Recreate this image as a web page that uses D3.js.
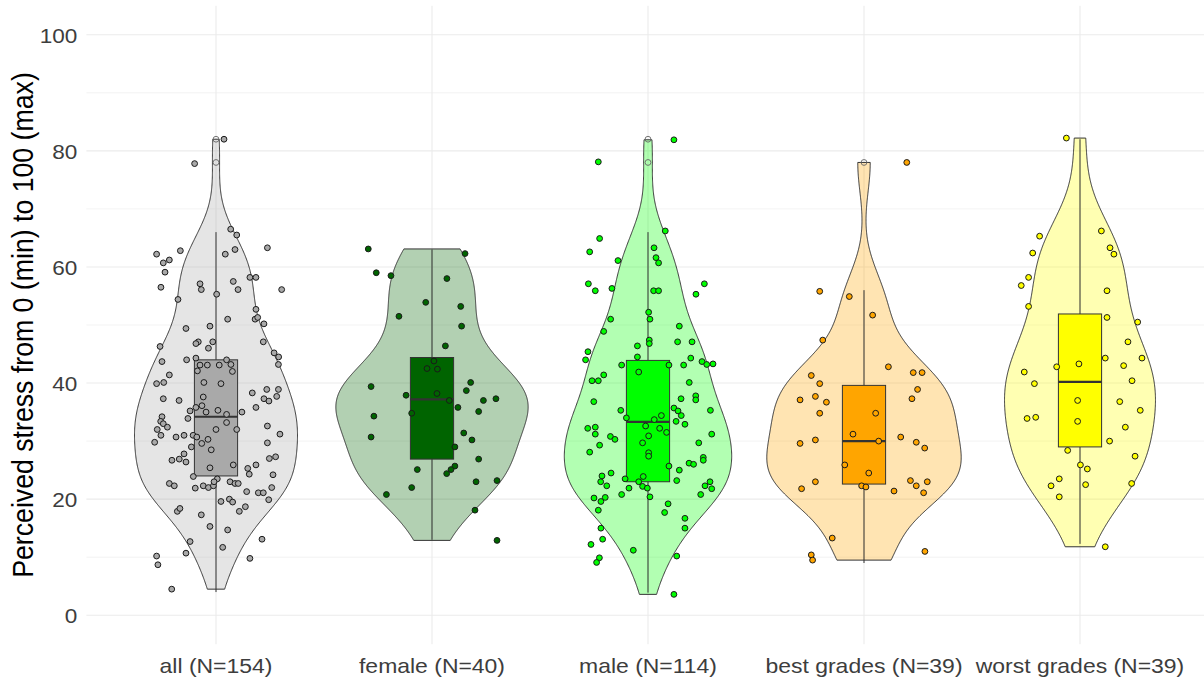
<!DOCTYPE html>
<html><head><meta charset="utf-8">
<script src="https://cdn.jsdelivr.net/npm/d3@7"></script>
<style>body{margin:0;background:#fff} text{font-family:Arial,"Liberation Sans",sans-serif}</style>
</head><body><svg id="c" width="1204" height="679"></svg>
<script>
// ---------------- data ----------------
const categories = ["all (N=154)", "female (N=40)", "male (N=114)", "best grades (N=39)", "worst grades (N=39)"];
const yTicks = [0, 20, 40, 60, 80, 100];
const yMinorTicks = [10, 30, 50, 70, 90];
const yTitle = "Perceived stress from 0 (min) to 100 (max)";

const allValues = [82.0,77.8,66.5,65.5,63.3,62.8,63.0,62.2,62.2,61.2,60.7,59.1,58.2,58.2,56.5,57.5,56.1,57.1,56.1,56.1,55.3,54.4,52.7,51.0,51.0,51.3,50.2,49.4,49.8,47.1,47.1,46.8,47.1,46.0,46.3,45.2,44.5,43.7,44.0,44.3,43.1,43.1,43.1,44.0,43.2,42.0,43.2,42.1,41.4,39.9,40.1,40.1,39.9,38.3,38.9,38.9,37.3,37.0,37.6,36.1,37.3,36.9,37.7,35.8,35.2,35.8,35.0,35.3,34.6,35.0,34.2,33.9,33.4,33.0,32.4,32.0,33.2,32.0,32.0,32.6,31.0,30.7,31.0,31.0,30.7,30.3,29.6,29.8,29.7,31.2,29.0,28.5,27.8,26.7,26.9,26.4,27.0,27.3,25.9,25.9,25.3,25.4,23.9,24.3,24.2,22.7,22.3,21.9,22.3,22.0,22.3,23.5,23.0,23.0,22.7,22.7,21.3,21.1,21.1,22.0,19.6,20.0,19.5,19.9,17.9,18.7,17.9,18.4,17.3,15.3,14.7,13.1,12.7,10.7,11.7,10.2,8.7,9.8,4.5];
const allJitter = [0.037,-0.099,0.068,0.096,0.238,-0.165,0.088,0.043,-0.275,-0.216,-0.244,-0.236,0.157,0.185,-0.255,0.080,0.304,-0.074,-0.068,0.102,0.003,-0.176,0.185,0.054,0.181,0.193,0.222,-0.139,-0.028,-0.015,-0.082,-0.093,0.219,-0.035,-0.259,0.269,0.290,-0.250,-0.136,-0.093,-0.074,-0.040,0.015,0.049,0.069,0.076,0.289,-0.086,-0.216,-0.275,-0.242,-0.056,0.023,0.168,0.235,0.289,-0.244,-0.171,-0.059,-0.065,0.222,0.245,0.281,0.185,-0.120,-0.093,-0.046,0.009,0.049,0.120,-0.250,-0.130,-0.256,-0.244,-0.225,-0.272,0.049,0,0.096,0.238,-0.255,-0.185,-0.148,-0.106,-0.089,-0.037,-0.066,-0.284,0.238,0.296,-0.114,-0.022,-0.148,-0.204,-0.170,-0.139,0.247,0.276,0.080,0.185,0.147,-0.028,-0.105,0.154,0.264,-0.216,-0.193,-0.096,-0.059,-0.035,-0.012,0.006,-0.009,0.065,0.088,0.103,0.142,0.196,0.219,0.258,0.023,0.062,0.077,0.244,0.108,0.136,-0.179,-0.167,-0.068,-0.028,0.054,0.213,-0.120,-0.139,0.031,-0.275,-0.269,0.157,-0.205];

const femaleValues = [63.1,62.3,59.0,58.5,58.0,53.9,53.2,51.5,49.8,46.4,43.8,42.5,42.4,40.1,39.4,38.7,37.9,38.2,37.0,37.3,37.0,35.8,35.1,34.8,34.3,31.4,30.2,30.7,29.0,26.9,25.1,25.7,25.1,24.4,23.0,23.2,22.0,20.8,18.1,12.9];
const femaleJitter = [-0.295,0.153,-0.258,-0.190,0.069,-0.029,0.133,-0.153,0.137,0.062,0.009,-0.023,0.025,0.179,-0.282,0.159,-0.120,0.023,0.238,0.296,0.080,0.120,0.216,-0.094,-0.269,0.147,0.185,-0.282,0.106,0.216,-0.068,0.106,0.088,0.068,0.204,0.301,-0.094,-0.211,0.199,0.301];

const maleValues = [81.9,78.1,66.2,64.9,62.6,63.3,61.6,60.7,61.1,57.1,55.9,56.3,55.9,55.9,57.1,55.3,52.2,51.0,51.0,48.9,49.8,47.1,47.1,47.4,46.8,46.4,44.5,45.4,44.0,43.1,43.1,43.1,44.3,43.7,43.2,43.3,41.9,40.4,40.4,41.4,40.1,36.8,37.3,37.8,37.1,35.3,34.0,35.7,35.2,35.3,34.4,33.7,34.4,33.4,32.9,32.2,32.4,31.2,32.6,32.2,31.5,30.9,30.8,30.3,31.2,29.7,29.3,28.1,29.7,28.0,27.4,27.2,26.7,26.2,26.0,25.7,25.0,24.5,24.0,23.5,23.0,22.3,23.9,23.0,22.2,21.9,21.9,23.2,23.0,22.3,21.8,20.8,20.8,20.4,20.2,20.3,19.6,18.1,19.2,17.7,16.7,15.0,15.0,13.1,12.2,11.2,9.9,9.1,10.2,3.6];
const maleJitter = [0.120,-0.230,0.080,-0.224,-0.270,0.028,0.037,0.049,-0.139,-0.276,-0.244,-0.167,0.026,0.049,0.261,0.222,0.003,0.009,-0.173,-0.205,0.145,0.137,0.204,0.006,0.006,-0.049,-0.049,-0.278,-0.289,-0.122,0.097,0.165,0.198,0.250,0.272,0.301,-0.043,-0.259,-0.230,-0.205,0.191,-0.251,0.153,0.221,0.221,-0.126,-0.100,0.120,0.139,0.289,0.062,0.029,0.154,0.130,0.171,-0.279,-0.244,-0.244,-0.011,0.054,0.086,0.003,-0.174,-0.153,0.295,-0.025,-0.224,-0.270,0.235,0.003,0.003,0.256,0.256,0.190,0.211,0.097,0.145,-0.171,-0.213,-0.106,-0.219,-0.191,-0.022,-0.043,-0.025,-0.003,-0.088,0.133,0.287,0.264,0.295,0.244,-0.122,0.009,-0.250,-0.198,-0.218,-0.230,0.093,0.077,0.171,0.171,-0.218,-0.210,-0.264,-0.068,-0.225,-0.238,0.133,0.120];

const bestValues = [78.0,55.8,54.9,51.7,47.4,42.8,41.8,41.8,41.3,39.9,38.9,37.7,37.1,36.7,37.3,34.8,34.8,31.2,30.7,30.0,29.6,30.2,29.8,28.8,25.9,24.5,23.0,21.8,22.3,22.1,21.4,23.2,22.3,23.0,21.1,13.3,10.4,9.5,11.0];
const bestJitter = [0.198,-0.205,-0.068,0.040,-0.191,0.113,0.228,0.269,-0.244,-0.205,0.248,-0.225,-0.296,-0.174,0.222,-0.205,0.054,-0.051,0.170,0.068,-0.296,-0.225,0.242,0.281,-0.089,0.022,-0.225,-0.289,-0.011,0.009,0.139,0.215,0.242,0.293,0.276,-0.147,-0.244,-0.238,0.282];

const worstValues = [82.2,65.3,66.2,63.3,62.2,62.4,58.2,56.8,55.9,53.2,51.3,50.5,47.1,44.3,44.3,43.3,42.8,41.9,43.0,39.9,40.4,37.0,36.8,35.3,33.9,34.1,33.4,32.4,30.0,28.4,27.4,25.9,25.2,23.5,22.3,22.5,22.7,20.4,11.8];
const worstJitter = [-0.063,-0.187,0.099,0.139,0.157,-0.219,-0.238,-0.272,0.125,-0.238,0.125,0.267,0.222,0.287,0.117,-0.005,-0.108,-0.258,0.202,-0.211,0.241,-0.011,0.184,0.279,-0.245,-0.205,-0.011,0.210,0.137,-0.057,0.255,0.002,0.034,-0.096,-0.134,0.026,0.239,-0.096,0.117];

// box-plot statistics
const boxQ1       = [24.0, 26.9, 23.0, 22.6, 29.0];
const boxMedian   = [34.2, 37.2, 33.3, 30.0, 40.2];
const boxQ3       = [44.0, 44.4, 43.9, 39.6, 51.9];
const whiskerLow  = [4.0, 13.0, 3.9, 9.0, 12.3];
const whiskerHigh = [66.0, 63.0, 66.0, 56.0, 82.0];
const boxOutliers = [[82.0, 78.0], [], [82.0, 78.0], [78.0], []];
const groupColors = ["#A9A9A9", "#006400", "#00FF00", "#FFA500", "#FFFF00"];

// ---------------- chart ----------------
const valuesList = [allValues, femaleValues, maleValues, bestValues, worstValues];
const jitterList = [allJitter, femaleJitter, maleJitter, bestJitter, worstJitter];

const svg = d3.select("#c");
const panel = {left: 86.4, right: 1209.6, top: 5.7, bottom: 644.3};
const x = d3.scalePoint().domain(categories).range([panel.left, panel.right]).padding(0.6);
const step = x.step();
const y = d3.scaleLinear().domain([-5, 105]).range([panel.bottom, panel.top]);

// grid
const grid = svg.append("g");
grid.selectAll("line.minor").data(yMinorTicks).join("line")
  .attr("x1", panel.left).attr("x2", panel.right)
  .attr("y1", d => y(d)).attr("y2", d => y(d))
  .attr("stroke", "#ebebeb").attr("stroke-width", 0.6);
grid.selectAll("line.major").data(yTicks).join("line")
  .attr("x1", panel.left).attr("x2", panel.right)
  .attr("y1", d => y(d)).attr("y2", d => y(d))
  .attr("stroke", "#ebebeb").attr("stroke-width", 1.1);
grid.selectAll("line.vert").data(categories).join("line")
  .attr("x1", d => x(d)).attr("x2", d => x(d))
  .attr("y1", panel.top).attr("y2", panel.bottom)
  .attr("stroke", "#ebebeb").attr("stroke-width", 1.1);

// kernel density (gaussian, bw.nrd0, trimmed to data range)
function bwNrd0(v) {
  const s = d3.deviation(v);
  const sorted = [...v].sort(d3.ascending);
  const iqr = d3.quantileSorted(sorted, 0.75) - d3.quantileSorted(sorted, 0.25);
  const lo = Math.min(s, iqr / 1.34) || s;
  return 0.9 * lo * Math.pow(v.length, -0.2);
}
function kde(v) {
  const h = bwNrd0(v);
  const [mn, mx] = d3.extent(v);
  const out = [];
  const n = 512;
  for (let i = 0; i < n; i++) {
    const t = mn + (mx - mn) * i / (n - 1);
    let s = 0;
    for (const xi of v) { const z = (t - xi) / h; s += Math.exp(-0.5 * z * z); }
    out.push({v: t, d: s / (v.length * h * Math.sqrt(2 * Math.PI))});
  }
  return out;
}
const densities = valuesList.map(kde);
const maxDensity = d3.max(densities, ds => d3.max(ds, d => d.d));
const widthScale = d3.scaleLinear().domain([0, maxDensity]).range([0, 0.45 * step]);

categories.forEach((cat, i) => {
  const cx = x(cat);
  const col = groupColors[i];
  const g = svg.append("g");
  // violin
  const area = d3.area()
    .y(d => y(d.v))
    .x0(d => cx - widthScale(d.d))
    .x1(d => cx + widthScale(d.d));
  g.append("path").attr("d", area(densities[i]))
    .attr("fill", col).attr("fill-opacity", 0.3)
    .attr("stroke", "#333333").attr("stroke-width", 1.0);
  // whiskers
  g.append("line").attr("x1", cx).attr("x2", cx)
    .attr("y1", y(boxQ3[i])).attr("y2", y(whiskerHigh[i]))
    .attr("stroke", "#333333").attr("stroke-width", 1.0);
  g.append("line").attr("x1", cx).attr("x2", cx)
    .attr("y1", y(boxQ1[i])).attr("y2", y(whiskerLow[i]))
    .attr("stroke", "#333333").attr("stroke-width", 1.0);
  // box
  const bw = 0.2 * step;
  g.append("rect").attr("x", cx - bw / 2).attr("width", bw)
    .attr("y", y(boxQ3[i])).attr("height", y(boxQ1[i]) - y(boxQ3[i]))
    .attr("fill", col).attr("stroke", "#333333").attr("stroke-width", 1.0);
  g.append("line").attr("x1", cx - bw / 2).attr("x2", cx + bw / 2)
    .attr("y1", y(boxMedian[i])).attr("y2", y(boxMedian[i]))
    .attr("stroke", "#333333").attr("stroke-width", 2.2);
  // outliers
  g.selectAll("circle.out").data(boxOutliers[i]).join("circle")
    .attr("cx", cx).attr("cy", d => y(d)).attr("r", 2.9)
    .attr("fill", "none").attr("stroke", "#666666").attr("stroke-width", 0.9);
  // jittered points
  const pts = valuesList[i].map((v, k) => ({v, j: jitterList[i][k]}));
  g.selectAll("circle.pt").data(pts).join("circle")
    .attr("cx", d => cx + d.j * step).attr("cy", d => y(d.v)).attr("r", 2.9)
    .attr("fill", col).attr("stroke", "#1a1a1a").attr("stroke-width", 1.0);
});

// axis labels
svg.append("g").selectAll("text").data(yTicks).join("text")
  .attr("transform", d => `translate(77.3,${y(d)}) scale(1.1,1)`)
  .attr("text-anchor", "end").attr("dy", "0.4em")
  .attr("font-size", "20.5px").attr("fill", "#3d3d3d")
  .text(d => d);
svg.append("g").selectAll("text").data(categories).join("text")
  .attr("transform", d => `translate(${x(d)},673) scale(1.12,1)`)
  .attr("text-anchor", "middle")
  .attr("font-size", "20.5px").attr("fill", "#3d3d3d")
  .text(d => d);
svg.append("text")
  .attr("transform", `translate(33.3,${(panel.top + panel.bottom) / 2}) scale(1.08,1) rotate(-90)`)
  .attr("text-anchor", "middle").attr("font-size", "26.7px").attr("fill", "#000")
  .text(yTitle);
</script></body></html>
